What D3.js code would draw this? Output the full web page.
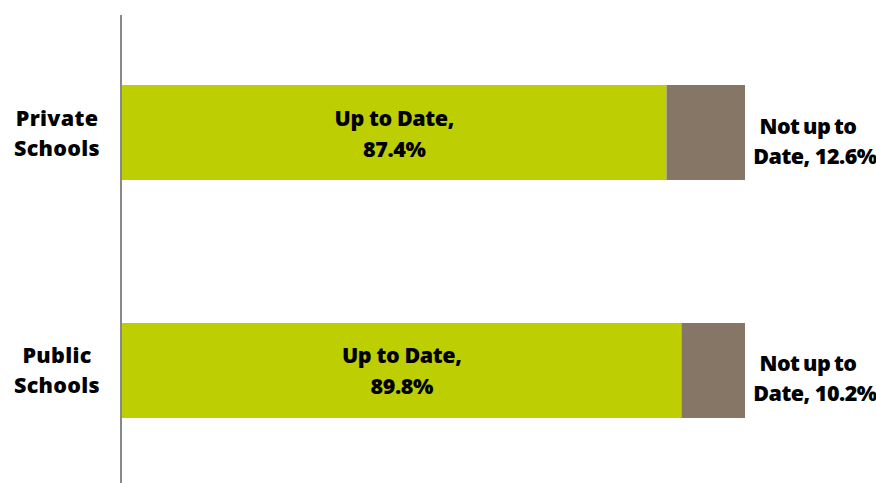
<!DOCTYPE html>
<html>
<head>
<meta charset="utf-8">
<script src="https://cdn.jsdelivr.net/npm/d3@7"></script>
<style>
  body { margin: 0; background: #fff; }
  svg text { font-family: "Open Sans", Lato, sans-serif; font-weight: 800; fill: #000; }
</style>
</head>
<body>
<div id="chart"></div>
<script>
// chart data
const categories = [["Private", "Schools"], ["Public", "Schools"]];
const upToDate = [87.4, 89.8];
const notUpToDate = [12.6, 10.2];
const segmentNames = ["Up to Date,", "Not up to"];

const width = 876, height = 483;

const svg = d3.select("#chart")
  .append("svg")
    .attr("width", width)
    .attr("height", height);

// x runs over the full 100% of each bar
const x = d3.scaleLinear()
  .domain([0, 100])
  .range([122, 745]);

// two rows, bars 95px thick, 238px apart
const y = d3.scaleBand()
  .domain(d3.range(categories.length))
  .range([85, 418])
  .paddingInner(0.6008)
  .paddingOuter(0);

const rows = categories.map((c, i) => ({
  label: c, up: upToDate[i], notUp: notUpToDate[i]
}));

// green segment
svg.selectAll("rect.up")
  .data(rows)
  .join("rect")
    .attr("class", "up")
    .attr("x", x(0))
    .attr("y", (d, i) => y(i))
    .attr("width", d => x(d.up) - x(0))
    .attr("height", y.bandwidth())
    .attr("fill", "#bdcf03");

// brown segment stacked after it
svg.selectAll("rect.notup")
  .data(rows)
  .join("rect")
    .attr("class", "notup")
    .attr("x", d => x(d.up))
    .attr("y", (d, i) => y(i))
    .attr("width", d => x(d.up + d.notUp) - x(d.up))
    .attr("height", y.bandwidth())
    .attr("fill", "#857665");

// vertical axis line
svg.append("line")
  .attr("x1", 121).attr("x2", 121)
  .attr("y1", 15).attr("y2", height)
  .attr("stroke", "#888")
  .attr("stroke-width", 2);

const mid = i => y(i) + y.bandwidth() / 2;
const fs = "21.5px";

// category labels
const cat = svg.selectAll("text.cat")
  .data(rows)
  .join("text")
    .attr("class", "cat")
    .attr("text-anchor", "middle")
    .attr("font-size", fs)
    .attr("letter-spacing", "0.3px");
cat.append("tspan")
  .attr("x", 57).attr("y", (d, i) => mid(i) - 7)
  .text(d => d.label[0]);
cat.append("tspan")
  .attr("x", 57).attr("y", (d, i) => mid(i) + 23)
  .text(d => d.label[1]);

// labels inside the green segment
const upLab = svg.selectAll("text.uplab")
  .data(rows)
  .join("text")
    .attr("class", "uplab")
    .attr("text-anchor", "middle")
    .attr("font-size", fs)
    .attr("letter-spacing", "-0.4px");
upLab.append("tspan")
  .attr("x", d => (x(0) + x(d.up)) / 2)
  .attr("y", (d, i) => mid(i) - 7)
  .text(segmentNames[0]);
upLab.append("tspan")
  .attr("x", d => (x(0) + x(d.up)) / 2)
  .attr("y", (d, i) => mid(i) + 24)
  .text(d => d.up.toFixed(1) + "%");

// labels to the right of the bar
const notLab = svg.selectAll("text.notlab")
  .data(rows)
  .join("text")
    .attr("class", "notlab")
    .attr("text-anchor", "middle")
    .attr("font-size", fs)
    .attr("letter-spacing", "-0.5px");
notLab.append("tspan")
  .attr("x", 808)
  .attr("y", (d, i) => mid(i) + 1)
  .attr("word-spacing", "-1.5px")
  .text(segmentNames[1]);
notLab.append("tspan")
  .attr("x", 815)
  .attr("y", (d, i) => mid(i) + 31)
  .text(d => "Date, " + d.notUp.toFixed(1) + "%");
</script>
</body>
</html>
